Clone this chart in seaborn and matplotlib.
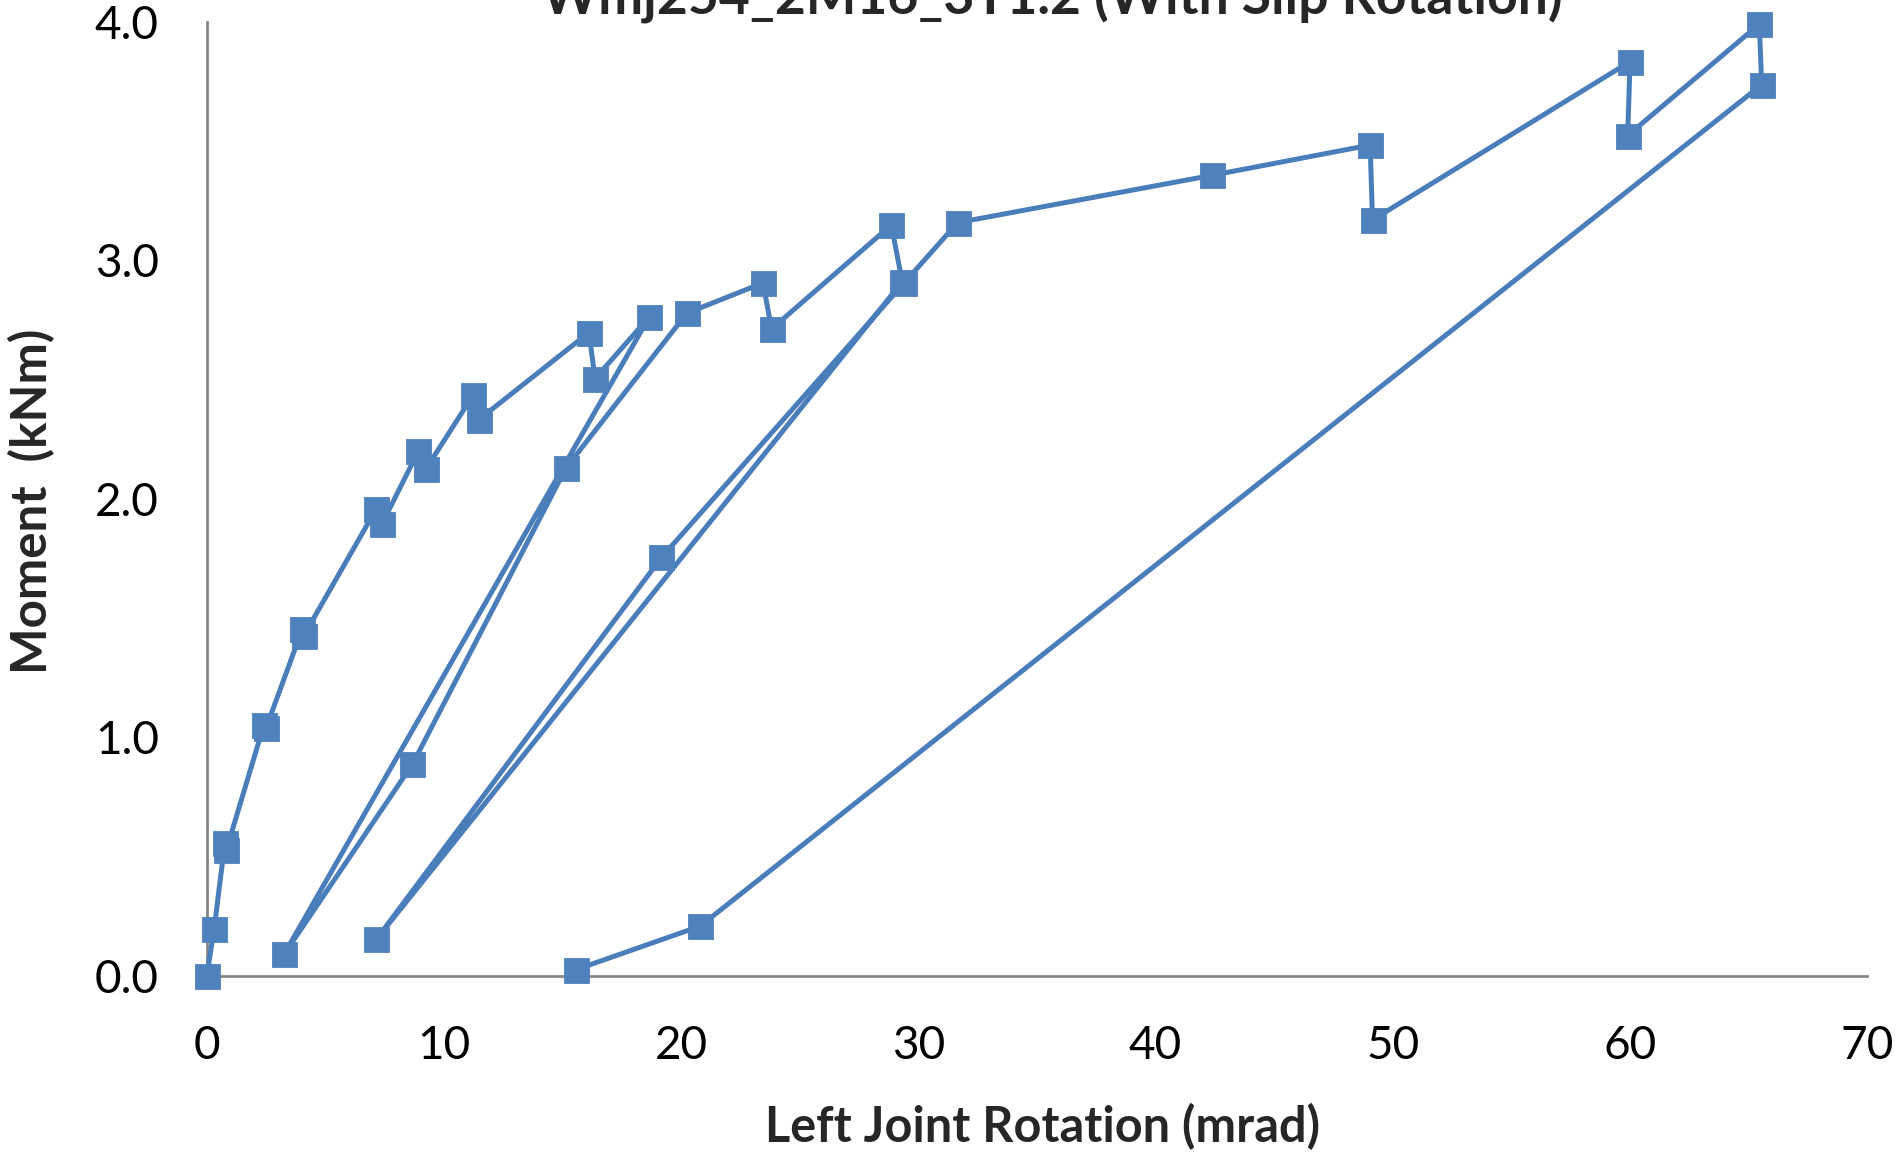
import matplotlib

matplotlib.use("Agg")

import matplotlib.pyplot as plt
import seaborn as sns

# test record (loading / unloading order kept)
rotation = [0.0, 0.31, 0.76, 0.82, 2.40, 2.50, 4.03, 4.08, 7.14, 7.39,
            8.92, 9.23, 11.22, 11.47, 16.11, 16.37, 18.66, 3.26, 8.67, 15.14,
            20.24, 23.45, 23.81, 28.86, 29.32, 7.14, 19.17, 29.40, 31.66, 42.37,
            49.05, 49.15, 60.01, 59.91, 65.46, 65.56, 20.80, 15.55]
moment = [0.0, 0.198, 0.558, 0.527, 1.05, 1.04, 1.455, 1.425, 1.957, 1.896,
          2.20, 2.124, 2.433, 2.332, 2.697, 2.504, 2.763, 0.091, 0.887, 2.129,
          2.778, 2.905, 2.712, 3.148, 2.910, 0.152, 1.754, 2.905, 3.158, 3.356,
          3.483, 3.169, 3.833, 3.523, 3.99, 3.736, 0.208, 0.025]

x_ticks = [0, 10, 20, 30, 40, 50, 60, 70]
y_ticks = [0.0, 1.0, 2.0, 3.0, 4.0]

TITLE = "Wmj254_2M16_3T1.2 (With Slip Rotation)"
XLABEL = "Left Joint Rotation (mrad)"
YLABEL = "Moment  (kNm)"

BLUE = "#4F81BD"
LINE = "#4A7EBB"
AXIS = "#868686"

sns.set_style("white")
plt.rcParams["font.family"] = ["Lato", "DejaVu Sans"]

fig = plt.figure(figsize=(18.96, 11.52), dpi=100)
ax = fig.add_axes([0.1091, 0.1530, 0.8756, 0.8281])

sns.lineplot(
    x=rotation,
    y=moment,
    sort=False,
    estimator=None,
    color=LINE,
    lw=3.6,
    marker="s",
    markersize=18,
    markerfacecolor=BLUE,
    markeredgecolor=BLUE,
    markeredgewidth=0.6,
    clip_on=False,
    zorder=5,
    ax=ax,
)

ax.set_xlim(0, 70)
ax.set_ylim(0, 4.0)
ax.set_xticks(x_ticks)
ax.set_xticklabels([str(t) for t in x_ticks])
ax.set_yticks(y_ticks)
ax.set_yticklabels([f"{t:.1f}" for t in y_ticks])
ax.tick_params(axis="both", direction="out", length=11.5, width=2,
               color=AXIS, labelsize=33, pad=23, labelcolor="black")
ax.tick_params(axis="x", pad=24)

for side in ("top", "right"):
    ax.spines[side].set_visible(False)
for side in ("left", "bottom"):
    ax.spines[side].set_color(AXIS)
    ax.spines[side].set_linewidth(2)
ax.set_xlabel("")
ax.set_ylabel("")

# title sits partly above the top edge, as in the source chart
fig.text(0.555, 0.988, TITLE, ha="center", va="baseline",
         fontsize=38.5, fontweight="bold")
fig.text(0.5496, 0.0087, XLABEL, ha="center", va="baseline",
         fontsize=35, fontweight="bold")
fig.text(0.0164, 0.565, YLABEL, ha="center", va="center", rotation=90,
         fontsize=35.5, fontweight="bold")

fig.savefig("out.png", dpi=100)
